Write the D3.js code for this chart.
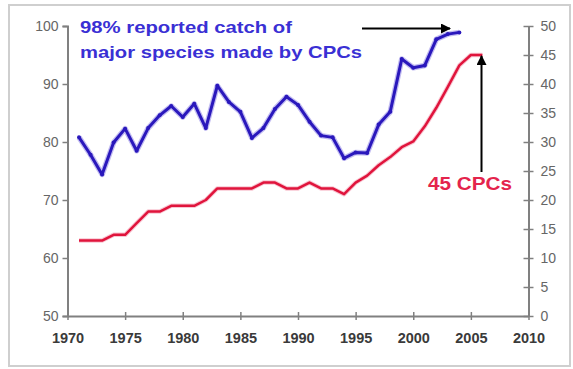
<!DOCTYPE html>
<html>
<head>
<meta charset="utf-8">
<script src="https://cdn.jsdelivr.net/npm/d3@7"></script>
<style>
  html, body { margin: 0; padding: 0; background: #fff; }
  svg { display: block; font-family: "Liberation Sans", Arial, sans-serif; }
</style>
</head>
<body>
<svg id="chart" width="573" height="369"></svg>
<script>
// ---- data ----
const blueYears = d3.range(1971, 2005);
const blueValues = [80.8, 77.8, 74.4, 79.9, 82.3, 78.5, 82.4, 84.6, 86.2, 84.3,
                    86.6, 82.4, 89.7, 86.9, 85.2, 80.7, 82.4, 85.7, 87.8, 86.4,
                    83.5, 81.1, 80.8, 77.2, 78.2, 78.1, 83.0, 85.2, 94.3, 92.8,
                    93.2, 97.7, 98.6, 98.9];
const redYears = d3.range(1971, 2007);
const redValues = [13, 13, 13, 14, 14, 16, 18, 18, 19, 19,
                   19, 20, 22, 22, 22, 22, 23, 23, 22, 22,
                   23, 22, 22, 21, 23, 24.2, 26, 27.4, 29.1, 30.1,
                   32.7, 35.9, 39.5, 43.2, 45, 45];
const xTicks = [1970, 1975, 1980, 1985, 1990, 1995, 2000, 2005, 2010];
const leftTicks = [50, 60, 70, 80, 90, 100];
const rightTicks = [0, 5, 10, 15, 20, 25, 30, 35, 40, 45, 50];
const titleLines = ["98% reported catch of", "major species made by CPCs"];
const redLabel = "45 CPCs";

// ---- layout ----
const svg = d3.select("#chart");
const x = d3.scaleLinear().domain([1970, 2010]).range([67.5, 528.5]);
const yL = d3.scaleLinear().domain([50, 100]).range([316, 26]);
const yR = d3.scaleLinear().domain([0, 50]).range([316, 26]);

// frame
svg.append("rect").attr("x", 9).attr("y", 5).attr("width", 561).attr("height", 361)
  .attr("fill", "none").attr("stroke", "#cfcfcf").attr("stroke-width", 2);

const axisColor = "#808080";

// left axis
const gL = svg.append("g").attr("transform", "translate(67.5,0)")
  .call(d3.axisLeft(yL).tickValues(leftTicks).tickSize(5).tickPadding(4).tickFormat(d3.format("d")));
gL.select(".domain").attr("stroke", axisColor).attr("stroke-width", 2);
gL.selectAll(".tick line").attr("stroke", axisColor).attr("stroke-width", 1.5);
gL.selectAll(".tick text").attr("fill", "#666").attr("font-size", 14)
  .attr("font-family", "Liberation Sans, Arial, sans-serif");

// right axis
const gR = svg.append("g").attr("transform", "translate(528.5,0)")
  .call(d3.axisRight(yR).tickValues(rightTicks).tickSizeInner(5).tickSizeOuter(0).tickPadding(7).tickFormat(d3.format("d")));
gR.select(".domain").attr("stroke", axisColor).attr("stroke-width", 2);
gR.selectAll(".tick line").attr("stroke", axisColor).attr("stroke-width", 1.5).attr("x1", -5);
gR.selectAll(".tick text").attr("fill", "#666").attr("font-size", 14)
  .attr("font-family", "Liberation Sans, Arial, sans-serif");

// bottom axis
const gB = svg.append("g").attr("transform", "translate(0,316)")
  .call(d3.axisBottom(x).tickValues(xTicks).tickSizeInner(4).tickSizeOuter(0).tickPadding(13).tickFormat(d3.format("d")));
gB.select(".domain").attr("stroke", axisColor).attr("stroke-width", 2);
gB.selectAll(".tick line").attr("stroke", axisColor).attr("stroke-width", 1.5).attr("y1", -4).attr("y2", 4);
gB.selectAll(".tick text").attr("fill", "#3a3a3a").attr("font-size", 14.5).attr("font-weight", "bold")
  .attr("font-family", "Liberation Sans, Arial, sans-serif");

// red line (right axis)
const redLine = d3.line().x((d, i) => x(redYears[i])).y(d => yR(d));
svg.append("path").datum(redValues).attr("d", redLine)
  .attr("fill", "none").attr("stroke", "#f4a0b4").attr("stroke-width", 4.5).attr("stroke-linejoin", "round").attr("opacity", 0.6);
svg.append("path").datum(redValues).attr("d", redLine)
  .attr("fill", "none").attr("stroke", "#e0143c").attr("stroke-width", 2.5).attr("stroke-linejoin", "round");

// blue line (left axis)
const blueLine = d3.line().x((d, i) => x(blueYears[i])).y(d => yL(d));
svg.append("path").datum(blueValues).attr("d", blueLine)
  .attr("fill", "none").attr("stroke", "#9a90e8").attr("stroke-width", 5.5).attr("stroke-linejoin", "round").attr("opacity", 0.6);
svg.append("path").datum(blueValues).attr("d", blueLine)
  .attr("fill", "none").attr("stroke", "#2a18bc").attr("stroke-width", 3).attr("stroke-linejoin", "round");
svg.append("g").selectAll("circle").data(blueValues).join("circle")
  .attr("cx", (d, i) => x(blueYears[i])).attr("cy", d => yL(d)).attr("r", 2).attr("fill", "#2a18bc");

// arrows
const defs = svg.append("defs");
defs.append("marker").attr("id", "ah").attr("viewBox", "0 0 10 10").attr("refX", 9).attr("refY", 5)
  .attr("markerWidth", 5).attr("markerHeight", 5).attr("orient", "auto")
  .append("path").attr("d", "M0,0 L10,5 L0,10 z").attr("fill", "#000");

svg.append("line").attr("x1", 362).attr("y1", 28.5).attr("x2", 450).attr("y2", 28.5)
  .attr("stroke", "#000").attr("stroke-width", 2).attr("marker-end", "url(#ah)");
svg.append("line").attr("x1", 481.5).attr("y1", 172).attr("x2", 481.5).attr("y2", 56)
  .attr("stroke", "#000").attr("stroke-width", 2).attr("marker-end", "url(#ah)");

// annotations
svg.append("text").attr("x", 80).attr("y", 33).attr("font-size", 17).attr("font-weight", "bold")
  .attr("fill", "#3a30d4").attr("textLength", 212).attr("lengthAdjust", "spacingAndGlyphs")
  .text(titleLines[0]);
svg.append("text").attr("x", 80).attr("y", 58).attr("font-size", 17).attr("font-weight", "bold")
  .attr("fill", "#3a30d4").attr("textLength", 282).attr("lengthAdjust", "spacingAndGlyphs")
  .text(titleLines[1]);
svg.append("text").attr("x", 428).attr("y", 190).attr("font-size", 17.5).attr("font-weight", "bold")
  .attr("fill", "#e4244c").attr("textLength", 84).attr("lengthAdjust", "spacingAndGlyphs")
  .text(redLabel);
</script>
</body>
</html>
